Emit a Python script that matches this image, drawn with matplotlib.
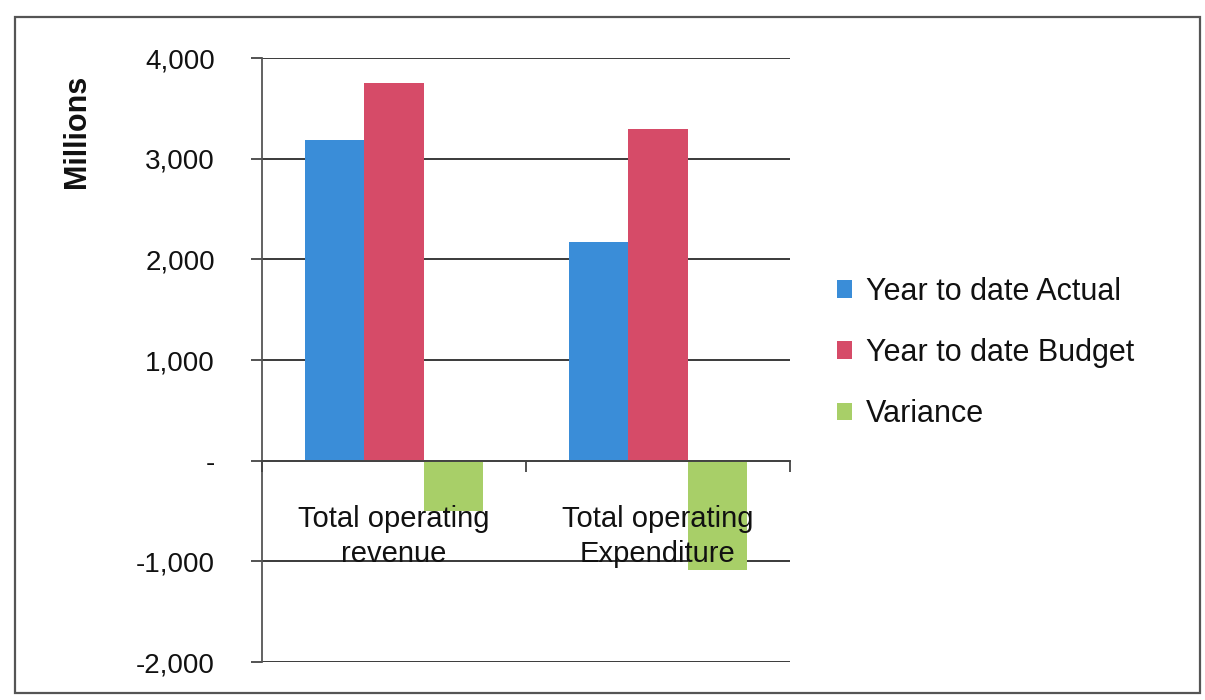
import matplotlib
matplotlib.use("Agg")
import matplotlib.pyplot as plt
from matplotlib.patches import Rectangle
from matplotlib.ticker import FuncFormatter
import numpy as np

plt.rcParams['font.family'] = ['Liberation Sans', 'DejaVu Sans']

categories = ["Total operating\nrevenue", "Total operating\nExpenditure"]
series_names = ["Year to date Actual", "Year to date Budget", "Variance"]
actual = [3190, 2170]
budget = [3750, 3290]
variance = [-500, -1090]
y_ticks = [-2000, -1000, 0, 1000, 2000, 3000, 4000]

colors = ["#3A8DD8", "#D64B68", "#A8CF68"]

fig = plt.figure(figsize=(12.05, 7.0), dpi=100)
ax = fig.add_axes([262 / 1205, 1 - 662 / 700, (790 - 262) / 1205, (662 - 58) / 700])

x = np.arange(len(categories))
w = 0.224
for i, (vals, name, c) in enumerate(zip([actual, budget, variance], series_names, colors)):
    ax.bar(x + (i - 1) * w, vals, width=w, color=c, label=name, zorder=2)

ax.set_xlim(-0.5, len(categories) - 0.5)
ax.set_ylim(y_ticks[0], y_ticks[-1])
ax.set_yticks(y_ticks)


def fmt(v, _pos):
    if v == 0:
        return "-"
    return f"{int(v):,}"


ax.yaxis.set_major_formatter(FuncFormatter(fmt))
ax.tick_params(axis='y', direction='out', length=8, width=1.3, color='#444444',
               labelsize=20, pad=26, labelcolor='#111111')

ax.grid(axis='y', color='#3a3a3a', linewidth=1.4)
ax.set_axisbelow(True)

for s in ['top', 'right']:
    ax.spines[s].set_visible(False)
ax.spines['left'].set_color('#555555')
ax.spines['left'].set_linewidth(1.3)
ax.spines['bottom'].set_position(('data', 0))
ax.spines['bottom'].set_color('#444444')
ax.spines['bottom'].set_linewidth(1.4)
ax.spines['bottom'].set_zorder(3)

# category boundaries get tick marks, category centres carry the labels
ax.set_xticks(np.arange(-0.5, len(categories), 1.0))
ax.set_xticklabels([""] * (len(categories) + 1))
ax.set_xticks(x, minor=True)
ax.set_xticklabels(categories, minor=True, fontsize=21, color='#111111', linespacing=1.3)
ax.tick_params(axis='x', which='major', direction='out', length=8, width=1.3, color='#444444')
ax.tick_params(axis='x', which='minor', length=0, pad=32)
# category labels sit on top of the bars
ax.xaxis.set_zorder(5)

ax.set_ylabel("Millions", fontsize=22, fontweight='bold', color='#111111')
ax.yaxis.set_label_coords(-0.322, 0.878)

leg = fig.legend(loc='center left', bbox_to_anchor=(837 / 1205, 1 - 353 / 700),
                 frameon=False, fontsize=22, handlelength=0.5, handleheight=0.5,
                 handletextpad=0.45, labelspacing=1.02, borderpad=0, borderaxespad=0)
for t in leg.get_texts():
    t.set_color('#111111')

# outer chart border
fig.patches.append(Rectangle((15 / 1205, 1 - 693 / 700), (1200 - 15) / 1205, (693 - 17) / 700,
                             transform=fig.transFigure, fill=False,
                             edgecolor='#555555', linewidth=1.6))

fig.savefig("out.png", dpi=100)
